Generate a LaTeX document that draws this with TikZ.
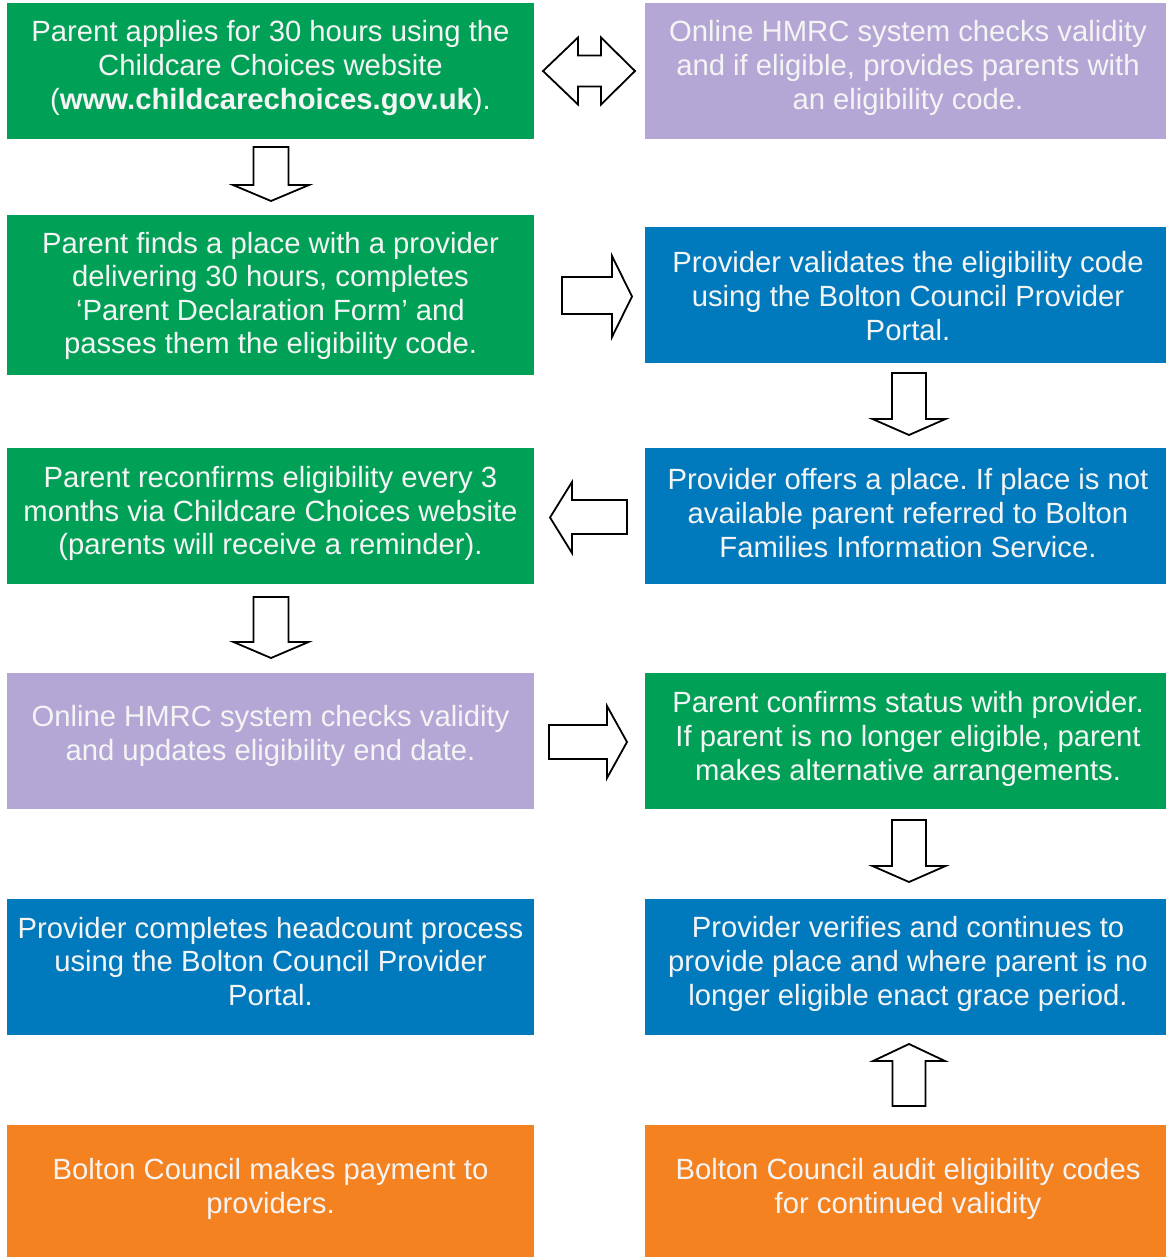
\documentclass[tikz,border=0pt]{standalone}
\usepackage{fontspec}
\setmainfont{Liberation Sans}
\frenchspacing
\definecolor{bgreen}{RGB}{0,161,87}
\definecolor{bblue}{RGB}{0,122,189}
\definecolor{blav}{RGB}{180,167,214}
\definecolor{borange}{RGB}{245,130,32}
\definecolor{btext}{RGB}{244,244,244}
\tikzset{
  box/.style={rectangle, inner sep=0pt},
  lbox/.style={box, minimum width=527pt},
  rbox/.style={box, minimum width=521pt},
  txt/.style={inner sep=0pt, align=center, text=btext,
    font=\fontsize{29.25}{33.6}\selectfont},
  barrow/.style={draw=black, fill=white, line width=1.8pt, line join=miter},
}
\newcommand\bdown[5]{% cx, top, tip, shaft half, head half
  \draw[barrow] ({#1-#4},#2) -- ({#1+#4},#2) -- ({#1+#4},{#3-16}) -- ({#1+#5},{#3-16}) -- (#1,#3) -- ({#1-#5},{#3-16}) -- ({#1-#4},{#3-16}) -- cycle;}
\begin{document}
\begin{tikzpicture}[x=1pt,y=-1pt]
\useasboundingbox[fill=white] (0,0) rectangle (1166,1258);
% left column
\node[lbox, fill=bgreen, minimum height=136pt] (l1) at (270.5,71) {};
\node[txt] (t1) at ([yshift=3pt]l1.center) {Parent applies for 30 hours using the\\Childcare Choices website\\(\textbf{www.childcarechoices.gov.uk}).};
\node[lbox, fill=bgreen, minimum height=160pt] (l2) at (270.5,295) {};
\node[txt] (t2) at ([yshift=-1pt]l2.center) {Parent finds a place with a provider\\delivering 30 hours, completes\\‘Parent Declaration Form’ and\\passes them the eligibility code.};
\node[lbox, fill=bgreen, minimum height=136pt] (l3) at (270.5,516) {};
\node[txt] (t3) at ([yshift=2.5pt]l3.center) {Parent reconfirms eligibility every 3\\months via Childcare Choices website\\(parents will receive a reminder).};
\node[lbox, fill=blav, minimum height=136pt] (l4) at (270.5,741) {};
\node[txt] (t4) at ([yshift=5pt]l4.center) {Online HMRC system checks validity\\and updates eligibility end date.};
\node[lbox, fill=bblue, minimum height=136pt] (l5) at (270.5,967) {};
\node[txt] (t5) at ([yshift=5.5pt]l5.center) {Provider completes headcount process\\using the Bolton Council Provider\\Portal.};
\node[lbox, fill=borange, minimum height=132pt] (l6) at (270.5,1191) {};
\node[txt] (t6) at ([yshift=2pt]l6.center) {Bolton Council makes payment to\\providers.};
% right column
\node[rbox, fill=blav, minimum height=136pt] (r1) at (905.5,71) {};
\node[txt] (u1) at ([xshift=2.5pt,yshift=3pt]r1.center) {Online HMRC system checks validity\\and if eligible, provides parents with\\an eligibility code.};
\node[rbox, fill=bblue, minimum height=136pt] (r2) at (905.5,295) {};
\node[txt] (u2) at ([xshift=2.5pt,yshift=-1pt]r2.center) {Provider validates the eligibility code\\using the Bolton Council Provider\\Portal.};
\node[rbox, fill=bblue, minimum height=136pt] (r3) at (905.5,516) {};
\node[txt] (u3) at ([xshift=2.5pt,yshift=3pt]r3.center) {Provider offers a place. If place is not\\available parent referred to Bolton\\Families Information Service.};
\node[rbox, fill=bgreen, minimum height=136pt] (r4) at (905.5,741) {};
\node[txt] (u4) at ([xshift=2.5pt,yshift=2pt]r4.center) {Parent confirms status with provider.\\If parent is no longer eligible, parent\\makes alternative arrangements.};
\node[rbox, fill=bblue, minimum height=136pt] (r5) at (905.5,967) {};
\node[txt] (u5) at ([xshift=2.5pt,yshift=3pt]r5.center) {Provider verifies and continues to\\provide place and where parent is no\\longer eligible enact grace period.};
\node[rbox, fill=borange, minimum height=132pt] (r6) at (905.5,1191) {};
\node[txt] (u6) at ([xshift=2.5pt,yshift=2pt]r6.center) {Bolton Council audit eligibility codes\\for continued validity};
% double arrow l1 <-> r1
\draw[barrow] (543,71) -- (578,37.5) -- (578,55.5) -- (601,55.5) -- (601,37.5) -- (635,71) -- (601,104.5) -- (601,86.5) -- (578,86.5) -- (578,104.5) -- cycle;
% down arrows
\bdown{271}{147}{201}{17.5}{38}
\bdown{909}{373}{435}{17}{36.5}
\bdown{271}{597}{658}{17.5}{37.5}
\bdown{909}{820}{882}{17}{36.5}
% up arrow r6 -> r5
\draw[barrow] (909,1044) -- (945,1061) -- (925.5,1061) -- (925.5,1106) -- (892.5,1106) -- (892.5,1061) -- (873,1061) -- cycle;
% right arrow l2 -> r2
\draw[barrow] (562,277) -- (612,277) -- (612,256) -- (632,296.5) -- (612,337) -- (612,314) -- (562,314) -- cycle;
% left arrow r3 -> l3
\draw[barrow] (627,500) -- (572,500) -- (572,482) -- (550,517.5) -- (572,553) -- (572,534) -- (627,534) -- cycle;
% right arrow l4 -> r4
\draw[barrow] (549,725) -- (607,725) -- (607,706) -- (627,742) -- (607,778) -- (607,759) -- (549,759) -- cycle;
\end{tikzpicture}
\end{document}
